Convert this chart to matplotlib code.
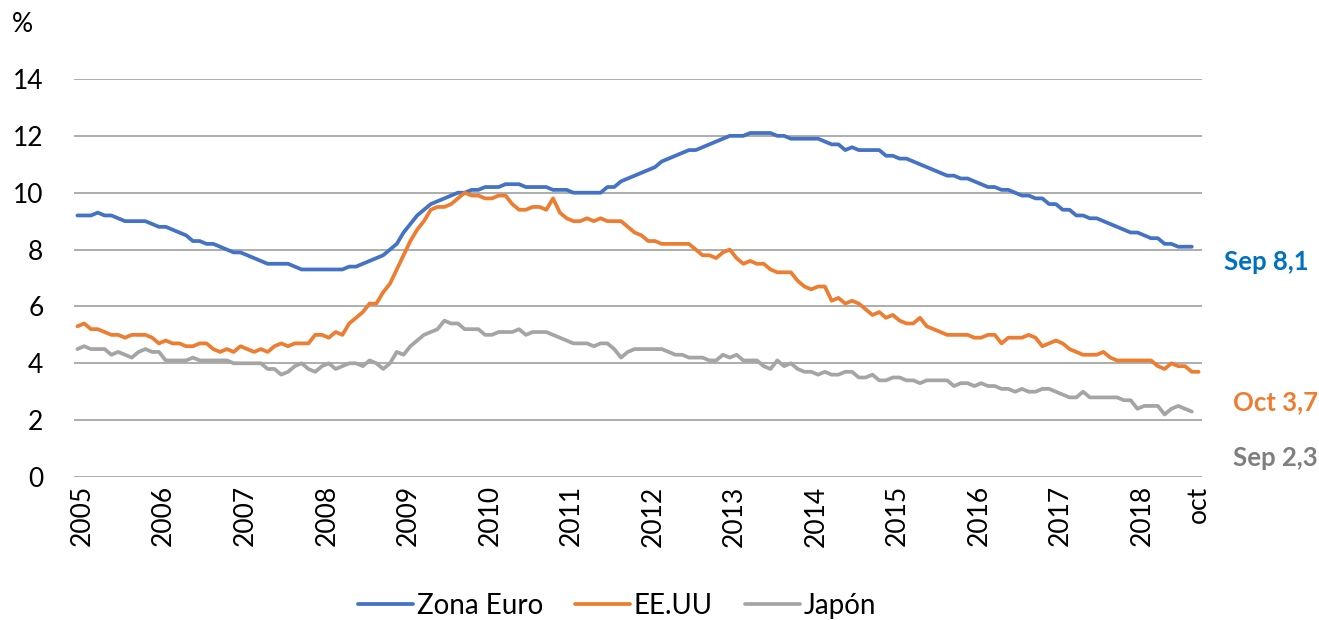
import numpy as np
import matplotlib
matplotlib.use("Agg")
import matplotlib.pyplot as plt
import matplotlib.transforms as mtransforms

plt.rcParams['font.family'] = ['Lato', 'DejaVu Sans']

# Monthly unemployment rate (%), Jan 2005 onward
zona_euro = [
    9.2, 9.2, 9.2, 9.3, 9.2, 9.2, 9.1, 9.0, 9.0, 9.0, 9.0, 8.9,
    8.8, 8.8, 8.7, 8.6, 8.5, 8.3, 8.3, 8.2, 8.2, 8.1, 8.0, 7.9,
    7.9, 7.8, 7.7, 7.6, 7.5, 7.5, 7.5, 7.5, 7.4, 7.3, 7.3, 7.3,
    7.3, 7.3, 7.3, 7.3, 7.4, 7.4, 7.5, 7.6, 7.7, 7.8, 8.0, 8.2,
    8.6, 8.9, 9.2, 9.4, 9.6, 9.7, 9.8, 9.9, 10.0, 10.0, 10.1, 10.1,
    10.2, 10.2, 10.2, 10.3, 10.3, 10.3, 10.2, 10.2, 10.2, 10.2, 10.1, 10.1,
    10.1, 10.0, 10.0, 10.0, 10.0, 10.0, 10.2, 10.2, 10.4, 10.5, 10.6, 10.7,
    10.8, 10.9, 11.1, 11.2, 11.3, 11.4, 11.5, 11.5, 11.6, 11.7, 11.8, 11.9,
    12.0, 12.0, 12.0, 12.1, 12.1, 12.1, 12.1, 12.0, 12.0, 11.9, 11.9, 11.9,
    11.9, 11.9, 11.8, 11.7, 11.7, 11.5, 11.6, 11.5, 11.5, 11.5, 11.5, 11.3,
    11.3, 11.2, 11.2, 11.1, 11.0, 10.9, 10.8, 10.7, 10.6, 10.6, 10.5, 10.5,
    10.4, 10.3, 10.2, 10.2, 10.1, 10.1, 10.0, 9.9, 9.9, 9.8, 9.8, 9.6,
    9.6, 9.4, 9.4, 9.2, 9.2, 9.1, 9.1, 9.0, 8.9, 8.8, 8.7, 8.6,
    8.6, 8.5, 8.4, 8.4, 8.2, 8.2, 8.1, 8.1, 8.1,
]

ee_uu = [
    5.3, 5.4, 5.2, 5.2, 5.1, 5.0, 5.0, 4.9, 5.0, 5.0, 5.0, 4.9,
    4.7, 4.8, 4.7, 4.7, 4.6, 4.6, 4.7, 4.7, 4.5, 4.4, 4.5, 4.4,
    4.6, 4.5, 4.4, 4.5, 4.4, 4.6, 4.7, 4.6, 4.7, 4.7, 4.7, 5.0,
    5.0, 4.9, 5.1, 5.0, 5.4, 5.6, 5.8, 6.1, 6.1, 6.5, 6.8, 7.3,
    7.8, 8.3, 8.7, 9.0, 9.4, 9.5, 9.5, 9.6, 9.8, 10.0, 9.9, 9.9,
    9.8, 9.8, 9.9, 9.9, 9.6, 9.4, 9.4, 9.5, 9.5, 9.4, 9.8, 9.3,
    9.1, 9.0, 9.0, 9.1, 9.0, 9.1, 9.0, 9.0, 9.0, 8.8, 8.6, 8.5,
    8.3, 8.3, 8.2, 8.2, 8.2, 8.2, 8.2, 8.0, 7.8, 7.8, 7.7, 7.9,
    8.0, 7.7, 7.5, 7.6, 7.5, 7.5, 7.3, 7.2, 7.2, 7.2, 6.9, 6.7,
    6.6, 6.7, 6.7, 6.2, 6.3, 6.1, 6.2, 6.1, 5.9, 5.7, 5.8, 5.6,
    5.7, 5.5, 5.4, 5.4, 5.6, 5.3, 5.2, 5.1, 5.0, 5.0, 5.0, 5.0,
    4.9, 4.9, 5.0, 5.0, 4.7, 4.9, 4.9, 4.9, 5.0, 4.9, 4.6, 4.7,
    4.8, 4.7, 4.5, 4.4, 4.3, 4.3, 4.3, 4.4, 4.2, 4.1, 4.1, 4.1,
    4.1, 4.1, 4.1, 3.9, 3.8, 4.0, 3.9, 3.9, 3.7, 3.7,
]

japon = [
    4.5, 4.6, 4.5, 4.5, 4.5, 4.3, 4.4, 4.3, 4.2, 4.4, 4.5, 4.4,
    4.4, 4.1, 4.1, 4.1, 4.1, 4.2, 4.1, 4.1, 4.1, 4.1, 4.1, 4.0,
    4.0, 4.0, 4.0, 4.0, 3.8, 3.8, 3.6, 3.7, 3.9, 4.0, 3.8, 3.7,
    3.9, 4.0, 3.8, 3.9, 4.0, 4.0, 3.9, 4.1, 4.0, 3.8, 4.0, 4.4,
    4.3, 4.6, 4.8, 5.0, 5.1, 5.2, 5.5, 5.4, 5.4, 5.2, 5.2, 5.2,
    5.0, 5.0, 5.1, 5.1, 5.1, 5.2, 5.0, 5.1, 5.1, 5.1, 5.0, 4.9,
    4.8, 4.7, 4.7, 4.7, 4.6, 4.7, 4.7, 4.5, 4.2, 4.4, 4.5, 4.5,
    4.5, 4.5, 4.5, 4.4, 4.3, 4.3, 4.2, 4.2, 4.2, 4.1, 4.1, 4.3,
    4.2, 4.3, 4.1, 4.1, 4.1, 3.9, 3.8, 4.1, 3.9, 4.0, 3.8, 3.7,
    3.7, 3.6, 3.7, 3.6, 3.6, 3.7, 3.7, 3.5, 3.5, 3.6, 3.4, 3.4,
    3.5, 3.5, 3.4, 3.4, 3.3, 3.4, 3.4, 3.4, 3.4, 3.2, 3.3, 3.3,
    3.2, 3.3, 3.2, 3.2, 3.1, 3.1, 3.0, 3.1, 3.0, 3.0, 3.1, 3.1,
    3.0, 2.9, 2.8, 2.8, 3.0, 2.8, 2.8, 2.8, 2.8, 2.8, 2.7, 2.7,
    2.4, 2.5, 2.5, 2.5, 2.2, 2.4, 2.5, 2.4, 2.3,
]

year_labels = [str(y) for y in range(2005, 2019)]
last_label = "oct"
series_names = ["Zona Euro", "EE.UU", "Japón"]
end_labels = ["Sep 8,1", "Oct 3,7", "Sep 2,3"]
end_label_y = [7.55, 2.65, 0.68]

colors = ["#4472C4", "#ED7D31", "#A5A5A5"]
end_colors = ["#0070C0", "#ED7D31", "#7F7F7F"]

W, H = 1319, 620
fig = plt.figure(figsize=(W / 100, H / 100), dpi=100)
ax = fig.add_axes([74 / W, 1 - 477 / H, 1128 / W, 398 / H])

n_total = len(ee_uu)
for vals, c, name in zip([zona_euro, ee_uu, japon], colors, series_names):
    ax.plot(np.arange(len(vals)), vals, color=c, lw=2.7, label=name,
            solid_joinstyle='round', solid_capstyle='round', zorder=3)

ax.set_xlim(-0.5, n_total - 0.5)
ax.set_ylim(0, 14)
ax.set_yticks(np.arange(0, 15, 2))
ax.yaxis.grid(True, color="#A0A0A0", lw=1.2)
ax.set_axisbelow(True)
for s in ax.spines.values():
    s.set_visible(False)
ax.tick_params(axis='y', length=0, pad=22, labelsize=19, labelcolor="#000000")

xt = [12 * k + 0.7 for k in range(len(year_labels))] + [n_total - 1]
ax.set_xticks(xt)
ax.set_xticklabels(year_labels + [last_label], rotation=90, fontsize=19)
ax.tick_params(axis='x', length=0, pad=6)

fig.text(12 / W, 1 - 25 / H, "%", fontsize=19, va='center', ha='left')

trans = mtransforms.blended_transform_factory(ax.transAxes, ax.transData)
for txt, yv, c, xo in zip(end_labels, end_label_y, end_colors, [1.0195, 1.0275, 1.0275]):
    ax.text(xo, yv, txt, transform=trans, color=c, fontsize=18.5,
            fontweight='bold', va='center', ha='left', clip_on=False)

fig.legend(loc='center', bbox_to_anchor=(617 / W, 1 - 606 / H), ncol=3,
           frameon=False, fontsize=20, handlelength=2.0, handletextpad=0.12,
           columnspacing=1.15)

fig.savefig("out.png", dpi=100)
